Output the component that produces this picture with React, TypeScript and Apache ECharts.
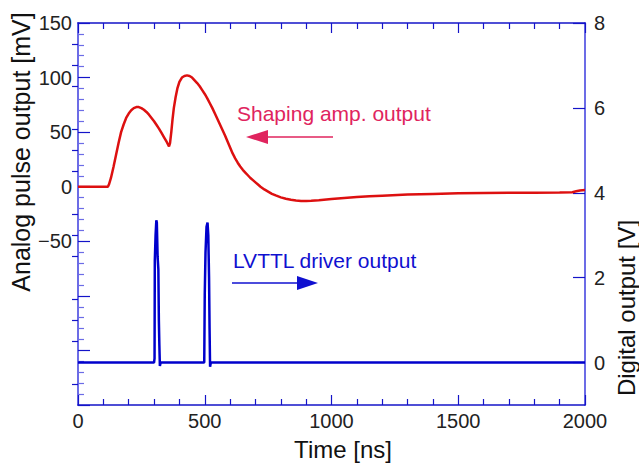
import React, { useEffect, useRef } from "react";
import * as echarts from "echarts";

// Shaping amplifier output (time ns, mV) – left axis
const redTime = [0, 118, 122, 130, 140, 150, 160, 170, 180, 190, 200, 210, 220, 230, 240, 250, 260, 270, 280, 290, 300, 310, 320, 330, 340, 350, 359, 363, 368, 373, 378, 385, 392, 400, 410, 420, 430, 440, 450, 460, 470, 480, 490, 500, 510, 520, 530, 540, 550, 560, 570, 580, 590, 600, 610, 620, 630, 640, 650, 660, 670, 680, 690, 700, 710, 720, 735, 750, 765, 780, 800, 820, 840, 860, 880, 900, 920, 950, 1000, 1050, 1100, 1150, 1200, 1300, 1400, 1500, 1600, 1700, 1800, 1900, 1950, 1965, 1980, 2000];
const redMv = [0, 0, 2, 8, 18, 29, 40, 50, 57, 63, 67, 70, 72, 73, 73, 72, 70.5, 68.5, 66, 63, 60, 56.5, 53, 49, 45, 41, 37, 40, 50, 62, 72, 82, 90, 96, 100, 101.5, 102, 101.5, 100, 97.5, 95, 92, 88.5, 85, 81, 76.5, 72, 67, 62, 57, 52, 47, 41.5, 36, 30.5, 26, 22, 18.5, 15.5, 13, 10.5, 8, 6, 4, 2, 0, -2.5, -4.5, -6.5, -8, -9.8, -11, -12, -12.6, -13, -13, -12.8, -12.3, -11.3, -10.3, -9.5, -8.8, -8.2, -7.2, -6.6, -6.1, -5.8, -5.6, -5.5, -5.3, -5, -4.2, -3.5, -3];

// LVTTL driver output (time ns, V) – right axis
const blueTime = [0, 300, 302, 303, 306, 309, 311, 314, 317, 319, 321, 323, 326, 498, 500, 503, 507, 511, 514, 517, 519, 521, 524, 2000];
const blueV = [0, 0, 0.1, 2.4, 3.0, 3.35, 3.3, 2.5, 2.2, 1.0, 0.4, -0.08, 0, 0, 1.6, 2.6, 3.2, 3.3, 3.0, 2.0, 0.8, -0.1, 0, 0];

const rightMajor = [0, 2, 4, 6, 8];
const rightMinor = [-0.5, 0.5, 1, 1.5, 2.5, 3, 3.5, 4.5, 5, 5.5, 6.5, 7, 7.5];

const xTitle = "Time [ns]";
const leftTitle = "Analog pulse output [mV]";
const rightTitle = "Digital output [V]";
const redLabel = "Shaping amp. output";
const blueLabel = "LVTTL driver output";

const TICK_FONT = "'Liberation Sans Narrow', 'Arial Narrow', 'Liberation Sans', sans-serif";
const TITLE_FONT = "'Liberation Sans', Arial, sans-serif";
const DARK_BLUE = "#1414c8";
const LIGHT_BLUE = "#6c6ce6";
const RED_ANN = "#e0245e";
const BLUE_ANN = "#1010d0";

export default function App() {
  const ref = useRef<HTMLDivElement>(null);
  useEffect(() => {
    if (!ref.current) return;
    const chart = echarts.init(ref.current, undefined, { renderer: "svg" });
    const redData = redTime.map((t, i) => [t, redMv[i]]);
    const blueData = blueTime.map((t, i) => [t, blueV[i]]);
    const labelStyle = { color: "#222", fontSize: 20, fontFamily: TICK_FONT };
    const xCommon = {
      type: "value",
      min: 0,
      max: 2000,
      interval: 500,
      axisLine: { show: true, onZero: false, lineStyle: { color: DARK_BLUE, width: 1.5 } },
      axisTick: { show: true, inside: true, length: 10, lineStyle: { color: DARK_BLUE, width: 1.2 } },
      minorTick: { show: true, splitNumber: 5, length: 6, lineStyle: { color: DARK_BLUE, width: 1.2 } },
      splitLine: { show: false },
      minorSplitLine: { show: false },
    };
    chart.setOption({
      animation: false,
      grid: { left: 78, right: 54, top: 23, bottom: 58, containLabel: false },
      xAxis: [
        {
          ...xCommon,
          position: "bottom",
          axisLabel: { ...labelStyle, margin: 6, formatter: (v: number) => String(v) },
        },
        { ...xCommon, position: "top", axisLabel: { show: false } },
      ],
      yAxis: [
        {
          type: "value",
          position: "left",
          min: -200,
          max: 150,
          interval: 50,
          axisLine: { show: true, onZero: false, lineStyle: { color: LIGHT_BLUE, width: 2 } },
          axisTick: { show: true, inside: true, length: 12, lineStyle: { color: DARK_BLUE, width: 1.2 } },
          minorTick: { show: true, splitNumber: 5, length: 6, lineStyle: { color: LIGHT_BLUE, width: 1.2 } },
          splitLine: { show: false },
          axisLabel: {
            ...labelStyle,
            margin: 6,
            formatter: (v: number) => (v < -50 ? "" : v < 0 ? "\u2212" + -v : String(v)),
          },
        },
        {
          type: "value",
          position: "right",
          min: -1,
          max: 8,
          axisLine: { show: true, onZero: false, lineStyle: { color: LIGHT_BLUE, width: 2 } },
          axisTick: { show: true, inside: true, length: 12, customValues: rightMajor, lineStyle: { color: DARK_BLUE, width: 1.2 } },
          splitLine: { show: false },
          axisLabel: { ...labelStyle, margin: 9, customValues: rightMajor },
        },
        {
          type: "value",
          position: "right",
          min: -1,
          max: 8,
          axisLine: { show: false },
          axisTick: { show: true, inside: true, length: 6, customValues: rightMinor, lineStyle: { color: DARK_BLUE, width: 1.2 } },
          splitLine: { show: false },
          axisLabel: { show: false },
        },
      ],
      series: [
        {
          type: "line",
          xAxisIndex: 0,
          yAxisIndex: 0,
          data: redData,
          showSymbol: false,
          smooth: false,
          lineStyle: { color: "#dd1010", width: 2.5 },
          z: 3,
        },
        {
          type: "line",
          xAxisIndex: 0,
          yAxisIndex: 1,
          data: blueData,
          showSymbol: false,
          lineStyle: { color: "#0000cc", width: 2.5 },
          z: 3,
        },
      ],
      graphic: [
        {
          type: "text",
          x: 21,
          y: 152,
          rotation: Math.PI / 2,
          style: { text: leftTitle, fill: "#111", fontSize: 25, fontFamily: TITLE_FONT, align: "center", verticalAlign: "middle" },
        },
        {
          type: "text",
          x: 343,
          y: 449,
          style: { text: xTitle, fill: "#111", fontSize: 24, fontFamily: TITLE_FONT, align: "center", verticalAlign: "middle" },
        },
        {
          type: "text",
          x: 626,
          y: 308,
          rotation: Math.PI / 2,
          style: { text: rightTitle, fill: "#111", fontSize: 24, fontFamily: TITLE_FONT, align: "center", verticalAlign: "middle" },
        },
        {
          type: "text",
          x: 237,
          y: 113,
          style: { text: redLabel, fill: RED_ANN, fontSize: 21, fontFamily: TITLE_FONT, align: "left", verticalAlign: "middle" },
        },
        {
          type: "line",
          shape: { x1: 333, y1: 137, x2: 262, y2: 137 },
          style: { stroke: RED_ANN, lineWidth: 1.5 },
        },
        {
          type: "polygon",
          shape: { points: [[246, 137], [268, 130], [268, 144]] },
          style: { fill: RED_ANN },
        },
        {
          type: "text",
          x: 233,
          y: 260,
          style: { text: blueLabel, fill: BLUE_ANN, fontSize: 21, fontFamily: TITLE_FONT, align: "left", verticalAlign: "middle" },
        },
        {
          type: "line",
          shape: { x1: 232, y1: 283, x2: 300, y2: 283 },
          style: { stroke: BLUE_ANN, lineWidth: 1.5 },
        },
        {
          type: "polygon",
          shape: { points: [[318, 283], [297, 276], [297, 290]] },
          style: { fill: BLUE_ANN },
        },
      ],
    });
    return () => chart.dispose();
  }, []);
  return (
    <div
      ref={ref}
      style={{ position: "fixed", left: 0, top: 0, width: 639, height: 463, background: "#fff" }}
    />
  );
}
